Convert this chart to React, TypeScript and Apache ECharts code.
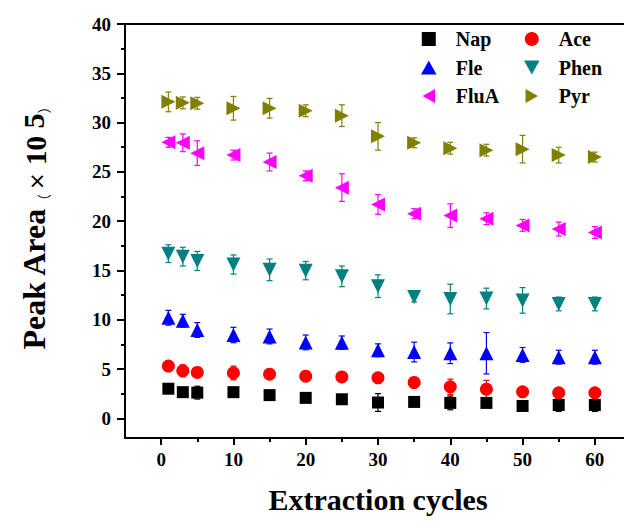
import React, { useEffect, useRef } from "react";
import * as echarts from "echarts";

const cycles = [1, 3, 5, 10, 15, 20, 25, 30, 35, 40, 45, 50, 55, 60];

const napY = [3.0, 2.65, 2.6, 2.65, 2.35, 2.07, 1.93, 1.6, 1.66, 1.56, 1.56, 1.25, 1.35, 1.35];
const napErr = [0.3, 0.3, 0.65, 0.3, 0.3, 0.3, 0.3, 0.9, 0.3, 0.7, 0.3, 0.3, 0.65, 0.65];
const aceY = [5.3, 4.82, 4.65, 4.6, 4.48, 4.27, 4.2, 4.1, 3.63, 3.19, 2.95, 2.68, 2.58, 2.58];
const aceErr = [0.3, 0.6, 0.3, 0.7, 0.3, 0.3, 0.3, 0.3, 0.3, 0.78, 0.9, 0.3, 0.3, 0.3];
const fleY = [10.2, 9.9, 8.96, 8.45, 8.3, 7.7, 7.67, 6.9, 6.72, 6.6, 6.6, 6.43, 6.2, 6.2];
const fleErr = [0.75, 0.65, 0.75, 0.78, 0.75, 0.75, 0.68, 0.65, 1.0, 1.05, 2.1, 0.75, 0.7, 0.7];
const phenY = [16.7, 16.4, 15.96, 15.6, 15.06, 14.98, 14.4, 13.4, 12.3, 12.1, 12.15, 11.96, 11.6, 11.6];
const phenErr = [0.9, 0.95, 0.97, 0.97, 1.1, 0.93, 1.05, 1.15, 0.5, 1.5, 1.05, 1.3, 0.7, 0.7];
const fluaY = [28.0, 27.95, 26.9, 26.7, 26.0, 24.6, 23.4, 21.7, 20.76, 20.56, 20.25, 19.57, 19.2, 18.85];
const fluaErr = [0.5, 0.9, 1.25, 0.5, 0.9, 0.5, 1.4, 1.0, 0.5, 1.2, 0.6, 0.6, 0.7, 0.6];
const pyrY = [32.1, 32.0, 31.96, 31.45, 31.45, 31.2, 30.7, 28.6, 27.95, 27.4, 27.2, 27.3, 26.7, 26.5];
const pyrErr = [1.0, 0.6, 0.6, 1.2, 1.0, 0.6, 1.1, 1.4, 0.5, 0.6, 0.6, 1.4, 0.8, 0.5];

const xMajor = [0, 10, 20, 30, 40, 50, 60];
const xMinor = [5, 15, 25, 35, 45, 55];
const yMajor = [0, 5, 10, 15, 20, 25, 30, 35, 40];
const yMinor = [2.5, 7.5, 12.5, 17.5, 22.5, 27.5, 32.5, 37.5];

const FONT = "'Liberation Serif', 'Times New Roman', serif";

type SeriesDef = {
  name: string;
  y: number[];
  err: number[];
  color: string;
  symbol: string;
  size: number;
};

const seriesDefs: SeriesDef[] = [
  { name: "Nap", y: napY, err: napErr, color: "#000000", symbol: "path://M0,0L10,0L10,10L0,10Z", size: 12 },
  { name: "Ace", y: aceY, err: aceErr, color: "#FF0000", symbol: "circle", size: 13 },
  { name: "Fle", y: fleY, err: fleErr, color: "#0000FF", symbol: "path://M5,0L10,9L0,9Z", size: 14 },
  { name: "Phen", y: phenY, err: phenErr, color: "#008080", symbol: "path://M0,0L10,0L5,9Z", size: 14 },
  { name: "FluA", y: fluaY, err: fluaErr, color: "#FF00FF", symbol: "path://M0,5L9,0L9,10Z", size: 14 },
  { name: "Pyr", y: pyrY, err: pyrErr, color: "#808000", symbol: "path://M0,0L9,5L0,10Z", size: 14 },
];

export default function App() {
  const ref = useRef<HTMLDivElement>(null);

  useEffect(() => {
    if (!ref.current) return;
    const chart = echarts.init(ref.current, undefined, { renderer: "svg" });

    const errSeries = seriesDefs.map((s) => ({
      type: "custom",
      name: s.name + "-err",
      xAxisIndex: 0,
      yAxisIndex: 0,
      z: 1,
      silent: true,
      data: cycles.map((x, i) => [x, s.y[i], s.err[i]]),
      renderItem: (params: any, api: any) => {
        const x = api.value(0);
        const y = api.value(1);
        const e = api.value(2);
        const top = api.coord([x, y + e]);
        const bot = api.coord([x, y - e]);
        const hw = 3;
        const st = { stroke: s.color, lineWidth: 1.2 };
        return {
          type: "group",
          children: [
            { type: "line", shape: { x1: top[0], y1: top[1], x2: bot[0], y2: bot[1] }, style: st },
            { type: "line", shape: { x1: top[0] - hw, y1: top[1], x2: top[0] + hw, y2: top[1] }, style: st },
            { type: "line", shape: { x1: bot[0] - hw, y1: bot[1], x2: bot[0] + hw, y2: bot[1] }, style: st },
          ],
        };
      },
    }));

    const scatterSeries = seriesDefs.map((s) => ({
      type: "scatter",
      name: s.name,
      xAxisIndex: 0,
      yAxisIndex: 0,
      z: 3,
      symbol: s.symbol,
      symbolSize: s.size,
      itemStyle: { color: s.color, opacity: 1 },
      data: cycles.map((x, i) => [x, s.y[i]]),
    }));

    const legendText = { fontFamily: FONT, fontWeight: "bold", fontSize: 20, color: "#000", lineHeight: 20 };

    const legendCommon = {
      orient: "vertical",
      top: 29,
      padding: 0,
      itemWidth: 44,
      itemHeight: 14,
      itemGap: 8.5,
      textStyle: legendText,
      selectedMode: false,
    };

    const option: any = {
      animation: false,
      backgroundColor: "#ffffff",
      grid: { left: 125, top: 24, width: 506, height: 414, containLabel: false, outerBoundsMode: "none" },
      legend: [
        { ...legendCommon, data: ["Nap", "Fle", "FluA"], left: 421 },
        { ...legendCommon, data: ["Ace", "Phen", "Pyr"], left: 524 },
      ],
      xAxis: [
        {
          type: "value",
          min: -5,
          max: 65,
          position: "bottom",
          axisLine: { show: true, onZero: false, lineStyle: { color: "#000", width: 2 } },
          axisTick: { show: true, customValues: xMajor, length: 7, lineStyle: { color: "#000", width: 2 } },
          axisLabel: {
            show: true,
            customValues: xMajor,
            margin: 12,
            fontFamily: FONT,
            fontWeight: "bold",
            fontSize: 19,
            color: "#000",
          },
          splitLine: { show: false },
          name: "Extraction cycles",
          nameLocation: "middle",
          nameGap: 46,
          nameTextStyle: { fontFamily: FONT, fontWeight: "bold", fontSize: 30, color: "#000" },
        },
        {
          type: "value",
          min: -5,
          max: 65,
          position: "bottom",
          axisLine: { show: false, onZero: false },
          axisTick: { show: true, customValues: xMinor, length: 4, lineStyle: { color: "#000", width: 2 } },
          axisLabel: { show: false },
          splitLine: { show: false },
        },
        {
          type: "value",
          min: -5,
          max: 65,
          position: "top",
          axisLine: { show: true, onZero: false, lineStyle: { color: "#000", width: 2 } },
          axisTick: { show: false },
          axisLabel: { show: false },
          splitLine: { show: false },
        },
      ],
      yAxis: [
        {
          type: "value",
          min: -2,
          max: 40,
          position: "left",
          axisLine: { show: true, onZero: false, lineStyle: { color: "#000", width: 2 } },
          axisTick: { show: true, customValues: yMajor, length: 8, lineStyle: { color: "#000", width: 2 } },
          axisLabel: {
            show: true,
            customValues: yMajor,
            margin: 14,
            fontFamily: FONT,
            fontWeight: "bold",
            fontSize: 19,
            color: "#000",
          },
          splitLine: { show: false },
        },
        {
          type: "value",
          min: -2,
          max: 40,
          position: "left",
          axisLine: { show: false, onZero: false },
          axisTick: { show: true, customValues: yMinor, length: 4, lineStyle: { color: "#000", width: 2 } },
          axisLabel: { show: false },
          splitLine: { show: false },
        },
      ],
      graphic: [
        {
          type: "text",
          x: 34,
          y: 225,
          rotation: Math.PI / 2,
          style: {
            text: "{a|Peak Area}{p|（}{x|×}{n| 10}{s| 5}{p|）}",
            align: "center",
            verticalAlign: "middle",
            fill: "#000",
            rich: {
              a: { fontFamily: FONT, fontWeight: "bold", fontSize: 32, verticalAlign: "bottom" },
              p: { fontFamily: "'Noto Sans CJK SC', sans-serif", fontSize: 14, verticalAlign: "bottom" },
              x: { fontFamily: "'DejaVu Sans', sans-serif", fontSize: 21, verticalAlign: "bottom", padding: [0, 0, 3, 4] },
              n: { fontFamily: FONT, fontWeight: "bold", fontSize: 29, verticalAlign: "bottom" },
              s: { fontFamily: FONT, fontWeight: "bold", fontSize: 30, verticalAlign: "top" },
            },
          },
        },
      ],
      series: [...errSeries, ...scatterSeries],
    };

    chart.setOption(option);
    return () => chart.dispose();
  }, []);

  return (
    <div
      ref={ref}
      style={{ position: "absolute", left: 0, top: 0, width: 624, height: 522 }}
    />
  );
}
